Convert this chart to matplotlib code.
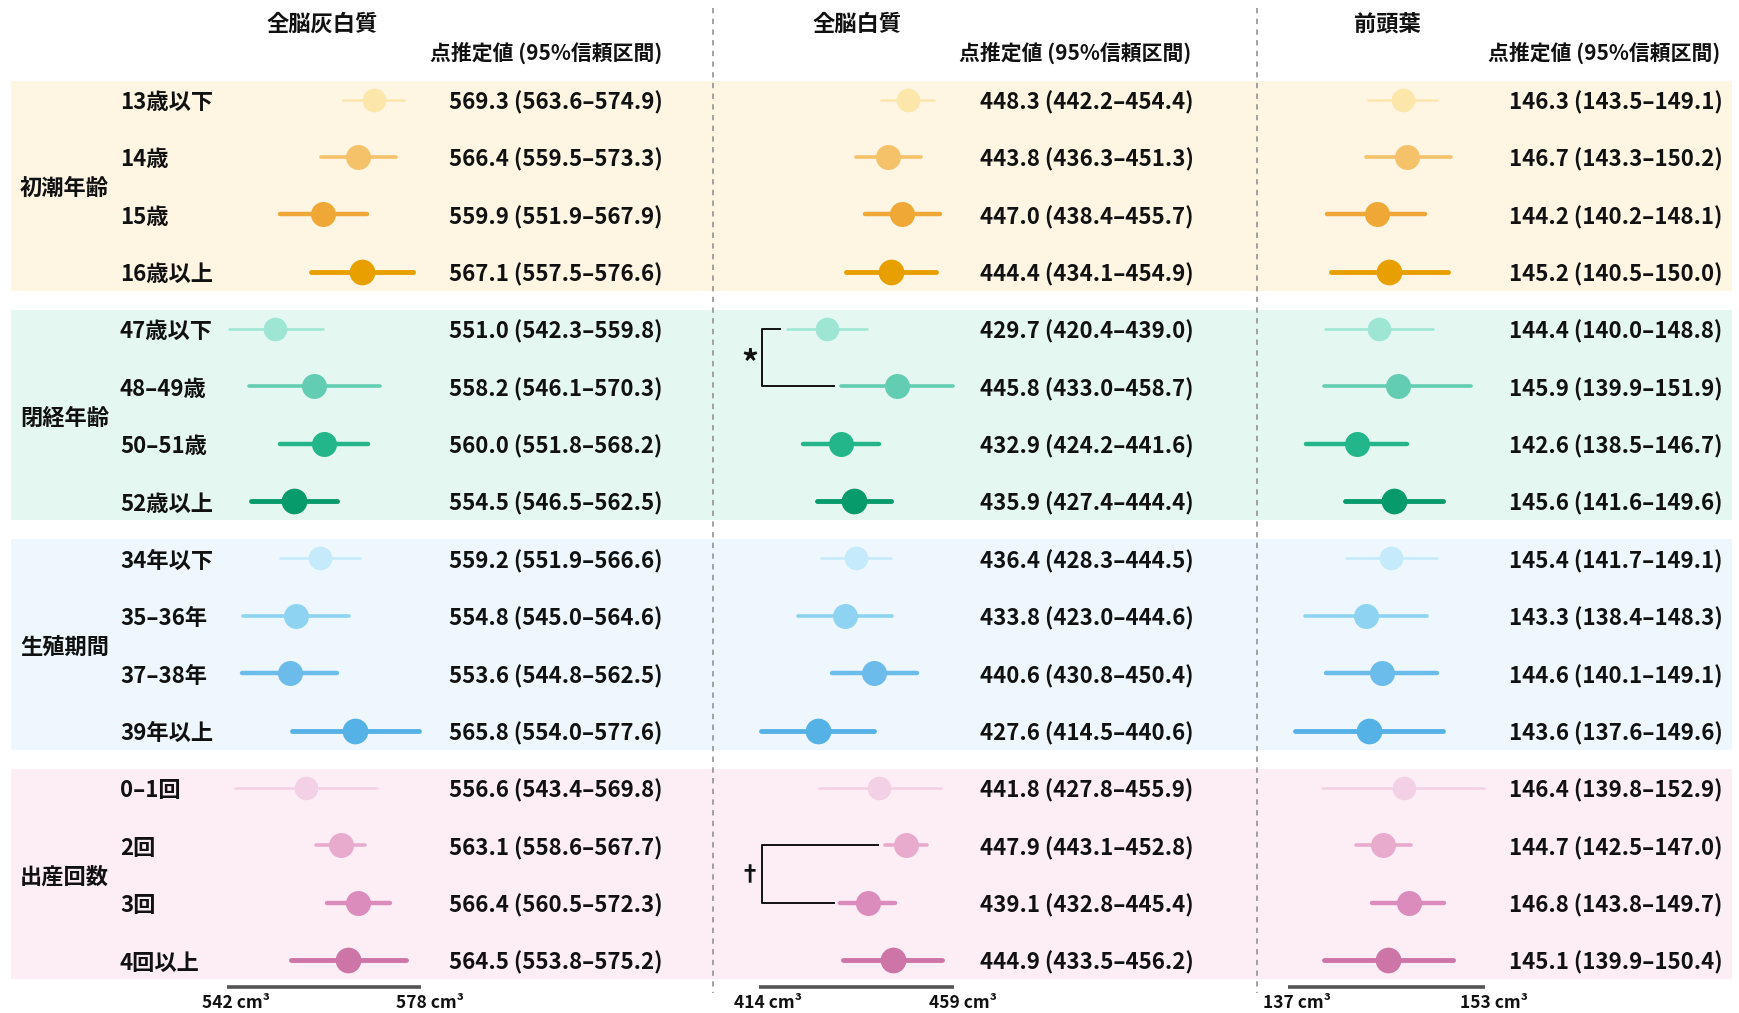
import matplotlib
matplotlib.use("Agg")
import matplotlib.pyplot as plt
from matplotlib.lines import Line2D

plt.rcParams['font.family'] = ['Noto Sans CJK JP', 'DejaVu Sans']

# ---------------- data ----------------
groups = ["初潮年齢", "閉経年齢", "生殖期間", "出産回数"]
row_labels = [
    ["13歳以下", "14歳", "15歳", "16歳以上"],
    ["47歳以下", "48–49歳", "50–51歳", "52歳以上"],
    ["34年以下", "35–36年", "37–38年", "39年以上"],
    ["0–1回", "2回", "3回", "4回以上"],
]
panel_titles = ["全脳灰白質", "全脳白質", "前頭葉"]
subheader = "点推定値 (95%信頼区間)"

gm_est = [569.3, 566.4, 559.9, 567.1, 551.0, 558.2, 560.0, 554.5,
          559.2, 554.8, 553.6, 565.8, 556.6, 563.1, 566.4, 564.5]
gm_lo = [563.6, 559.5, 551.9, 557.5, 542.3, 546.1, 551.8, 546.5,
         551.9, 545.0, 544.8, 554.0, 543.4, 558.6, 560.5, 553.8]
gm_hi = [574.9, 573.3, 567.9, 576.6, 559.8, 570.3, 568.2, 562.5,
         566.6, 564.6, 562.5, 577.6, 569.8, 567.7, 572.3, 575.2]

wm_est = [448.3, 443.8, 447.0, 444.4, 429.7, 445.8, 432.9, 435.9,
          436.4, 433.8, 440.6, 427.6, 441.8, 447.9, 439.1, 444.9]
wm_lo = [442.2, 436.3, 438.4, 434.1, 420.4, 433.0, 424.2, 427.4,
         428.3, 423.0, 430.8, 414.5, 427.8, 443.1, 432.8, 433.5]
wm_hi = [454.4, 451.3, 455.7, 454.9, 439.0, 458.7, 441.6, 444.4,
         444.5, 444.6, 450.4, 440.6, 455.9, 452.8, 445.4, 456.2]

fl_est = [146.3, 146.7, 144.2, 145.2, 144.4, 145.9, 142.6, 145.6,
          145.4, 143.3, 144.6, 143.6, 146.4, 144.7, 146.8, 145.1]
fl_lo = [143.5, 143.3, 140.2, 140.5, 140.0, 139.9, 138.5, 141.6,
         141.7, 138.4, 140.1, 137.6, 139.8, 142.5, 143.8, 139.9]
fl_hi = [149.1, 150.2, 148.1, 150.0, 148.8, 151.9, 146.7, 149.6,
         149.1, 148.3, 149.1, 149.6, 152.9, 147.0, 149.7, 150.4]

scale_ranges = [(542, 578), (414, 459), (137, 153)]

# significance brackets in the white-matter panel: (row a, row b, symbol)
brackets = [(4, 5, "*"), (13, 14, "†")]

# ---------------- styling ----------------
point_colors = [
    ["#FCE6A9", "#F5C26A", "#EFA836", "#E8A000"],
    ["#9CE6D3", "#63CDB2", "#22B68A", "#079A6B"],
    ["#C5EAFB", "#8FD3F3", "#6CBCEB", "#55B2E6"],
    ["#F4D0E5", "#E8ABCE", "#DB8CBC", "#CD75A6"],
]
band_colors = ["#FEF5E3", "#E5F7F1", "#EDF7FD", "#FDEEF5"]
line_widths = [1.8, 2.6, 3.2, 3.5]
marker_sizes = [17, 18, 18, 18.5]

W, H = 1740, 1013
fig = plt.figure(figsize=(W / 100, H / 100), dpi=100)

# canvas axes in pixel coordinates for bands, text, separators
canvas = fig.add_axes([0, 0, 1, 1])
canvas.set_xlim(0, W)
canvas.set_ylim(H, 0)
canvas.axis("off")

row_top, row_step = 99.5, 57.37
band_pad = 19.0
TY = 3.0  # small downward nudge so CJK text sits centred on its row


def row_y(i):
    return row_top + i * row_step


FS = 16
TXT = "#111111"

# background bands and labels
for g, name in enumerate(groups):
    y0 = row_y(4 * g) - band_pad
    y1 = row_y(4 * g + 3) + band_pad
    canvas.add_patch(plt.Rectangle((11, y0), 1721, y1 - y0,
                                   color=band_colors[g], lw=0, zorder=0))
    canvas.text(20, (row_y(4 * g + 1) + row_y(4 * g + 2)) / 2 + TY, name,
                fontsize=FS, fontweight="bold", color=TXT,
                ha="left", va="center")
    for k, lab in enumerate(row_labels[g]):
        canvas.text(120, row_y(4 * g + k) + TY, lab, fontsize=FS,
                    fontweight="bold", color=TXT, ha="left", va="center")

# separators
for xs in (713, 1257):
    canvas.add_line(Line2D([xs, xs], [8, 993], color="#8a8a8a", lw=1.1,
                           linestyle=(0, (3.5, 3.5)), zorder=1))

panel_px = [(227, 421), (759, 954), (1288, 1485)]
title_x = [322, 857, 1387]
sub_right = [662, 1191, 1720]
value_x = [449, 980, 1509]
series = [(gm_est, gm_lo, gm_hi), (wm_est, wm_lo, wm_hi),
          (fl_est, fl_lo, fl_hi)]

for p in range(3):
    x0, x1 = panel_px[p]
    ax = fig.add_axes([x0 / W, 0, (x1 - x0) / W, 1])
    ax.set_xlim(*scale_ranges[p])
    ax.set_ylim(H, 0)
    ax.axis("off")
    est, lo, hi = series[p]
    for i in range(16):
        g, k = divmod(i, 4)
        c = point_colors[g][k]
        ax.plot([lo[i], hi[i]], [row_y(i), row_y(i)], color=c,
                lw=line_widths[k], solid_capstyle="round", clip_on=False,
                zorder=3)
        ax.plot(est[i], row_y(i), "o", color=c, ms=marker_sizes[k],
                mec="none", clip_on=False, zorder=4)
        canvas.text(value_x[p], row_y(i) + TY,
                    f"{est[i]:.1f} ({lo[i]:.1f}–{hi[i]:.1f})",
                    fontsize=FS, fontweight="bold", color=TXT,
                    ha="left", va="center")
    # scale bar
    a, b = scale_ranges[p]
    ax.plot([a, b], [987, 987], color="#555555", lw=2.6,
            solid_capstyle="butt", clip_on=False)
    span = b - a
    for v in (a, b):
        ax.text(v + span * 0.045, 1003, f"{v} cm³", fontsize=12.5,
                fontweight="bold", color=TXT, ha="center", va="center")
    canvas.text(title_x[p], 24, panel_titles[p], fontsize=FS,
                fontweight="bold", color=TXT, ha="center", va="center")
    canvas.text(sub_right[p], 53, subheader, fontsize=FS - 1,
                fontweight="bold", color=TXT, ha="right", va="center")

    if p == 1:
        bx = a + 0.7
        gap = 1.6
        for ra, rb, sym in brackets:
            ya, yb = row_y(ra), row_y(rb)
            ax.plot([lo[ra] - gap, bx, bx, lo[rb] - gap], [ya, ya, yb, yb],
                    color="#111111", lw=1.4, clip_on=False, zorder=2)
            ax.text(bx - 2.8, (ya + yb) / 2 + (6 if sym == "*" else 2), sym,
                    fontsize=24 if sym == "*" else 16,
                    fontweight="bold", color=TXT, ha="center", va="center")

fig.savefig("out.png", dpi=100)
